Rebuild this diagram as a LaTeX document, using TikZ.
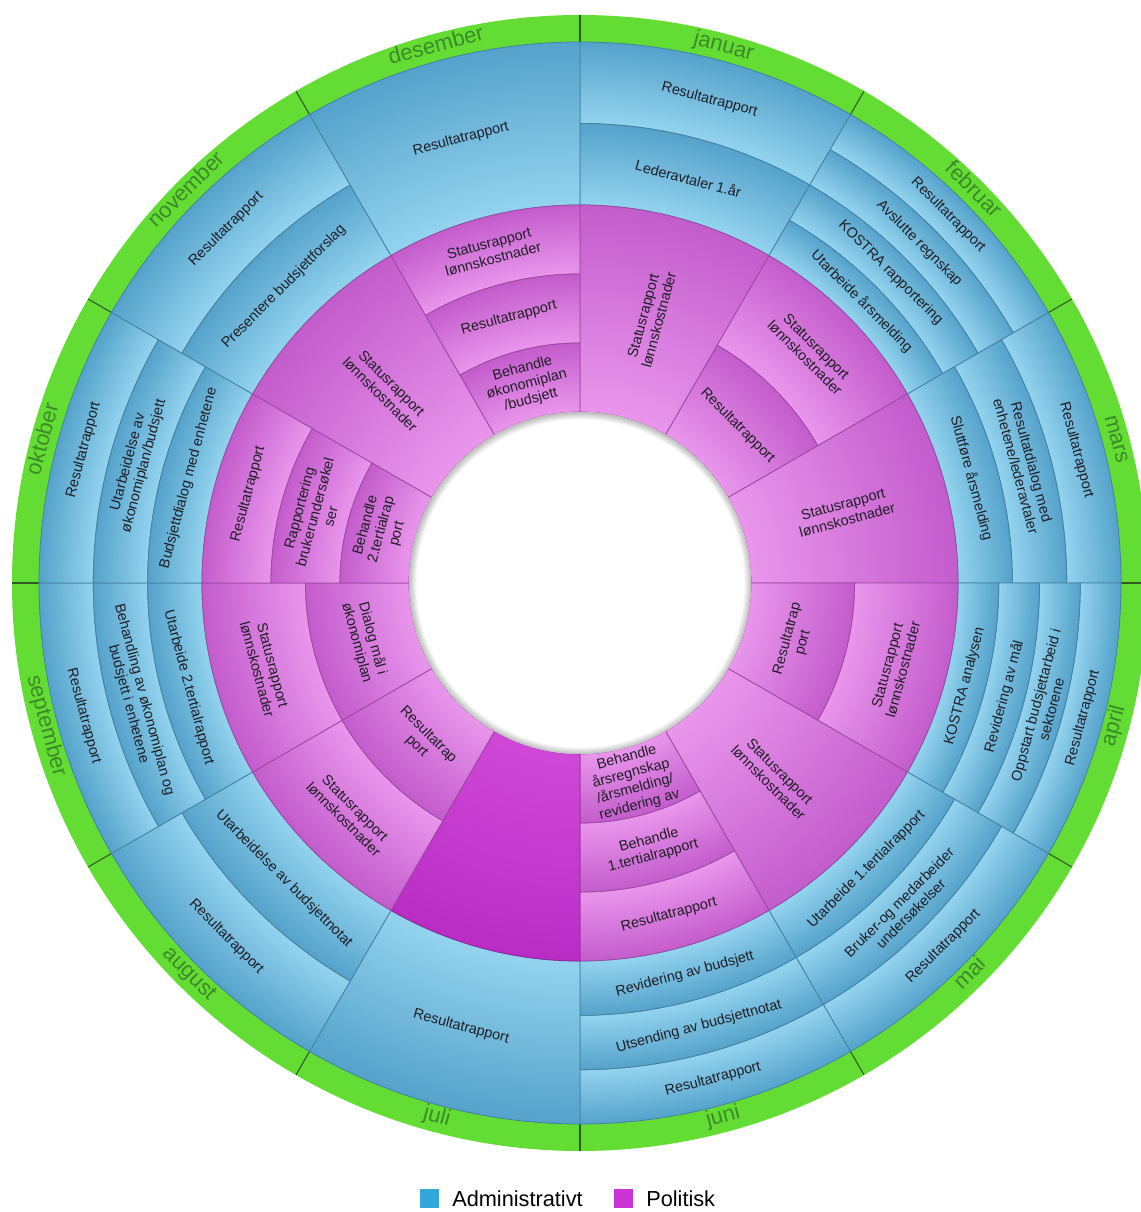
\documentclass[tikz,border=0pt]{standalone}
\usepackage{fontspec}
\setmainfont{Liberation Sans}

\definecolor{ringgreen}{HTML}{63DD34}
\definecolor{monthgreen}{HTML}{3C8A28}
\definecolor{ringline}{HTML}{2E5A22}
\definecolor{blight}{HTML}{93D3EE}
\definecolor{bdark}{HTML}{55A2CB}
\definecolor{mlight}{HTML}{E996EC}
\definecolor{mdark}{HTML}{C35CCC}
\definecolor{jlight}{HTML}{CF48D8}
\definecolor{jdark}{HTML}{BA2DC5}
\definecolor{legblue}{HTML}{35A6DA}
\definecolor{legmag}{HTML}{CC33D6}
\definecolor{inktext}{HTML}{1E1E24}
\definecolor{holeedge}{HTML}{BDBDBD}

% one annular sector, shaded from light (inner edge) to dark (outer edge);
% a shaded path maps its half size to 25bp of the shading
\newcounter{segno}
\newcommand{\segshape}[6]{%
  \stepcounter{segno}%
  \pgfmathsetmacro{\segstop}{25*(#3/#4)}%
  \edef\segname{segshade\arabic{segno}}%
  \edef\segdecl{\noexpand\pgfdeclareradialshading{\segname}{\noexpand\pgfpointorigin}%
    {color(0bp)=(#5); color(\segstop bp)=(#5); color(25bp)=(#6); color(50bp)=(#6)}}%
  \segdecl
  \begin{scope}
    \clip (#1:#3) arc[start angle=#1, end angle=#2, radius=#3] -- (#2:#4)
          arc[start angle=#2, end angle=#1, radius=#4] -- cycle;
    \shade[shading=\segname] (0,0) circle[radius=#4];
  \end{scope}
  \draw[line width=0.6pt, draw=#6!80!black] (#1:#3) arc[start angle=#1, end angle=#2, radius=#3] -- (#2:#4)
        arc[start angle=#2, end angle=#1, radius=#4] -- cycle;
}
% label in the middle of a sector
\newcommand{\seglabel}[6]{%
  \pgfmathsetmacro{\segmid}{(#1+#2)/2}%
  \pgfmathsetmacro{\segrad}{(#3+#4)/2}%
  \node[segtext, rotate=#5] (lbl\arabic{segno}) at (\segmid:\segrad) {#6};
}
\newcommand{\bseg}[6]{\segshape{#1}{#2}{#3}{#4}{blight}{bdark}\seglabel{#1}{#2}{#3}{#4}{#5}{#6}}
\newcommand{\mseg}[6]{\segshape{#1}{#2}{#3}{#4}{mlight}{mdark}\seglabel{#1}{#2}{#3}{#4}{#5}{#6}}

\pgfdeclareradialshading{holeshade}{\pgfpointorigin}{color(0bp)=(white); color(23.9bp)=(white); color(25bp)=(holeedge); color(50bp)=(holeedge)}

\begin{document}
\begin{tikzpicture}[x=0.75pt, y=0.75pt,
  segtext/.style={inner sep=0pt, align=center, text=inktext,
    font=\fontsize{10.8}{12.2}\selectfont},
  monthlabel/.style={inner sep=0pt, text=monthgreen, text height=0.52em, text depth=0pt,
    font=\fontsize{16.5}{18}\selectfont},
  legsq/.style={inner sep=0pt, minimum size=14.25pt},
  legtext/.style={inner sep=0pt, anchor=west, text=black, font=\fontsize{16.3}{18}\selectfont}]

\useasboundingbox (-580,-629) rectangle (560,583);

% outer green month ring
\fill[ringgreen] (0,0) circle[radius=568];
\foreach \a in {0,30,...,330}
  \draw[ringline, line width=0.8pt] (\a:541) -- (\a:568);

% ---- administrative ring (blue) ----
% januar
\bseg{60}{90}{459.5}{541}{-15}{Resultatrapport}
\bseg{60}{90}{378}{459.5}{-15}{Lederavtaler 1.år}
% februar
\bseg{30}{60}{500.25}{541}{-45}{Resultatrapport}
\bseg{30}{60}{459.5}{500.25}{-45}{Avslutte regnskap}
\bseg{30}{60}{418.75}{459.5}{-45}{KOSTRA rapportering}
\bseg{30}{60}{378}{418.75}{-45}{Utarbeide årsmelding}
% mars
\bseg{0}{30}{486.67}{541}{-75}{Resultatrapport}
\bseg{0}{30}{432.33}{486.67}{-75}{Resultatdialog med\\enhetene/lederavtaler}
\bseg{0}{30}{378}{432.33}{-75}{Sluttføre årsmelding}
% april
\bseg{-30}{0}{500.25}{541}{75}{Resultatrapport}
\bseg{-30}{0}{459.5}{500.25}{75}{Oppstart budsjettarbeid i\\sektorene}
\bseg{-30}{0}{418.75}{459.5}{75}{Revidering av mål}
\bseg{-30}{0}{378}{418.75}{75}{KOSTRA analysen}
% mai
\bseg{-60}{-30}{486.67}{541}{45}{Resultatrapport}
\bseg{-60}{-30}{432.33}{486.67}{45}{Bruker-og medarbeider\\undersøkelser}
\bseg{-60}{-30}{378}{432.33}{45}{Utarbeide 1.tertialrapport}
% juni
\bseg{-90}{-60}{486.67}{541}{15}{Resultatrapport}
\bseg{-90}{-60}{432.33}{486.67}{15}{Utsending av budsjettnotat}
\bseg{-90}{-60}{378}{432.33}{15}{Revidering av budsjett}
% juli
\bseg{-120}{-90}{378}{541}{-15}{Resultatrapport}
% august
\bseg{-150}{-120}{459.5}{541}{-45}{Resultatrapport}
\bseg{-150}{-120}{378}{459.5}{-45}{Utarbeidelse av budsjettnotat}
% september
\bseg{-180}{-150}{486.67}{541}{-75}{Resultatrapport}
\bseg{-180}{-150}{432.33}{486.67}{-75}{Behandling av økonomiplan og\\budsjett i enhetene}
\bseg{-180}{-150}{378}{432.33}{-75}{Utarbeide 2.tertialrapport}
% oktober
\bseg{150}{180}{486.67}{541}{75}{Resultatrapport}
\bseg{150}{180}{432.33}{486.67}{75}{Utarbeidelse av\\økonomiplan/budsjett}
\bseg{150}{180}{378}{432.33}{75}{Budsjettdialog med enhetene}
% november
\bseg{120}{150}{459.5}{541}{45}{Resultatrapport}
\bseg{120}{150}{378}{459.5}{45}{Presentere budsjettforslag}
% desember
\bseg{90}{120}{378}{541}{15}{Resultatrapport}

% ---- political ring (magenta) ----
% januar
\mseg{60}{90}{171}{378}{75}{Statusrapport\\lønnskostnader}
% februar
\mseg{30}{60}{274.5}{378}{-45}{Statusrapport\\lønnskostnader}
\mseg{30}{60}{171}{274.5}{-45}{Resultatrapport}
% mars
\mseg{0}{30}{171}{378}{15}{Statusrapport\\lønnskostnader}
% april
\mseg{-30}{0}{274.5}{378}{75}{Statusrapport\\lønnskostnader}
\mseg{-30}{0}{171}{274.5}{75}{Resultatrap\\port}
% mai
\mseg{-60}{-30}{171}{378}{-45}{Statusrapport\\lønnskostnader}
% juni
\mseg{-90}{-60}{309}{378}{15}{Resultatrapport}
\mseg{-90}{-60}{240}{309}{15}{Behandle\\1.tertialrapport}
\mseg{-90}{-60}{171}{240}{15}{Behandle\\årsregnskap\\/årsmelding/\\revidering av}
% juli
\segshape{-120}{-90}{171}{378}{jlight}{jdark}
% august
\mseg{-150}{-120}{274.5}{378}{-45}{Statusrapport\\lønnskostnader}
\mseg{-150}{-120}{171}{274.5}{-45}{Resultatrap\\port}
% september
\mseg{-180}{-150}{274.5}{378}{-75}{Statusrapport\\lønnskostnader}
\mseg{-180}{-150}{171}{274.5}{-75}{Dialog mål i\\økonomiplan}
% oktober
\mseg{150}{180}{309}{378}{75}{Resultatrapport}
\mseg{150}{180}{240}{309}{75}{Rapportering\\brukerundersøkel\\ser}
\mseg{150}{180}{171}{240}{75}{Behandle\\2.tertialrap\\port}
% november
\mseg{120}{150}{171}{378}{-45}{Statusrapport\\lønnskostnader}
% desember
\mseg{90}{120}{309}{378}{15}{Statusrapport\\lønnskostnader}
\mseg{90}{120}{240}{309}{15}{Resultatrapport}
\mseg{90}{120}{171}{240}{15}{Behandle\\økonomiplan\\/budsjett}

% white centre with a soft inner edge
\fill[white] (0,0) circle[radius=171];
\shade[shading=holeshade] (0,0) circle[radius=171];

% month names
\node[monthlabel, rotate=-15] (mjan) at (75:553) {januar};
\node[monthlabel, rotate=-45] (mfeb) at (45:553) {februar};
\node[monthlabel, rotate=-75] (mmar) at (15:553) {mars};
\node[monthlabel, rotate=75]  (mapr) at (-15:555) {april};
\node[monthlabel, rotate=45]  (mmai) at (-45:555) {mai};
\node[monthlabel, rotate=15]  (mjun) at (-75:555) {juni};
\node[monthlabel, rotate=-15] (mjul) at (-105:555) {juli};
\node[monthlabel, rotate=-45] (maug) at (-135:555) {august};
\node[monthlabel, rotate=-75] (msep) at (-165:555) {september};
\node[monthlabel, rotate=75]  (mokt) at (165:553) {oktober};
\node[monthlabel, rotate=45]  (mnov) at (135:553) {november};
\node[monthlabel, rotate=15]  (mdes) at (105:553) {desember};

% legend
\node[legsq, fill=legblue] (legA) at (-150.5,-615.5) {};
\node[legtext] (legAt) at (-128,-615.5) {Administrativt};
\node[legsq, fill=legmag] (legP) at (43,-615.5) {};
\node[legtext] (legPt) at (66,-615.5) {Politisk};
\end{tikzpicture}
\end{document}
